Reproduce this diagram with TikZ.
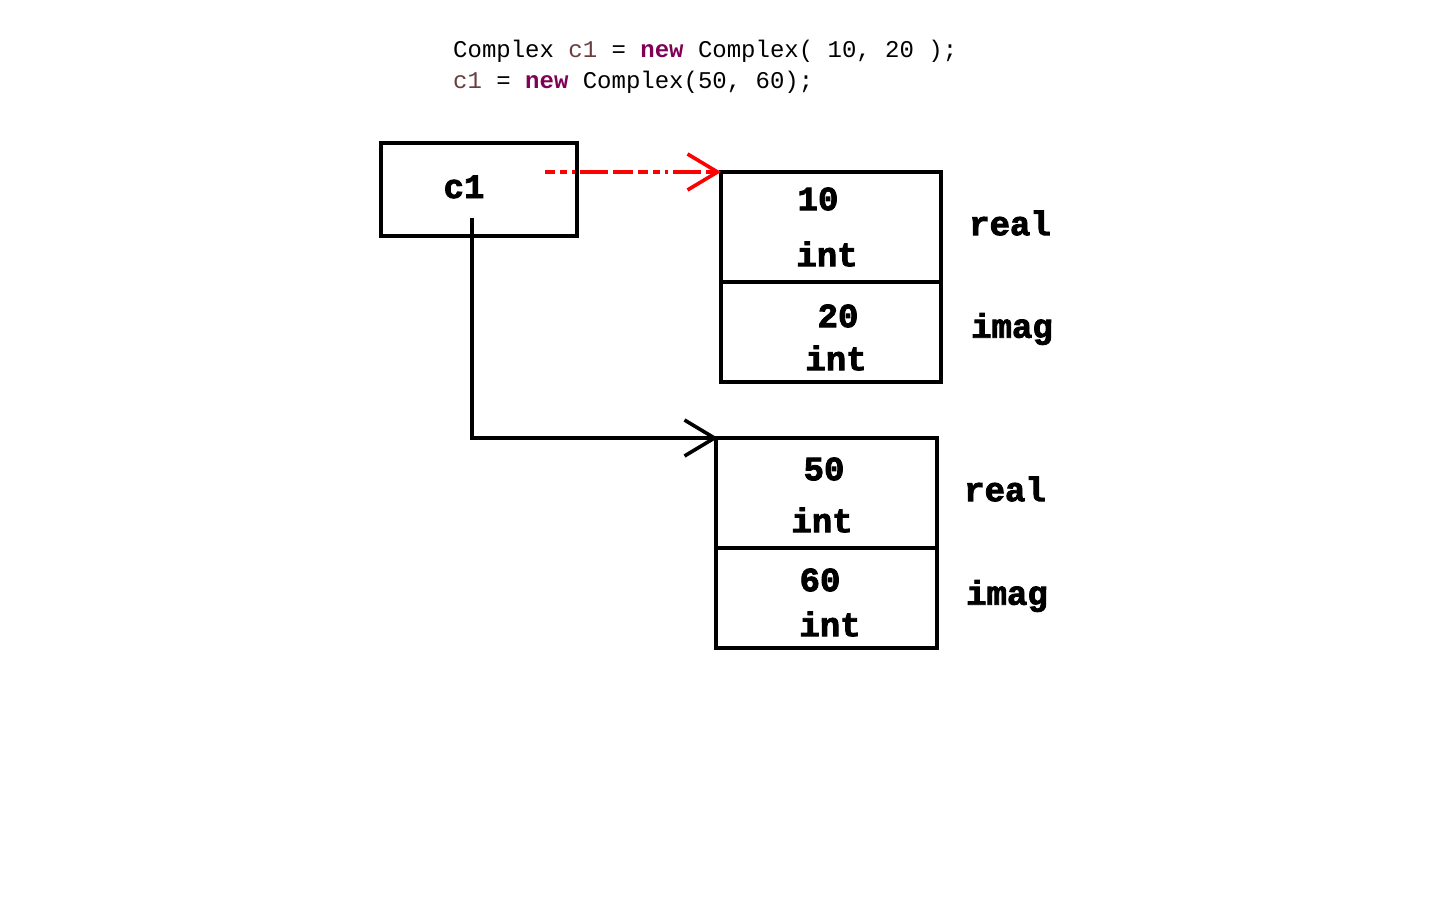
\documentclass[tikz,border=0pt]{standalone}
\usepackage{fontspec}
\setmonofont{Liberation Mono}
\newfontfamily\labfont[BoldFeatures={FakeBold=2.5}]{Liberation Mono}
\usetikzlibrary{arrows.meta}
\definecolor{kw}{HTML}{7F0055}
\definecolor{var}{HTML}{6A3E3E}
\begin{document}
\begin{tikzpicture}[x=1pt,y=-1pt,
  box/.style={draw=black,line width=3.6pt},
  lab/.style={font=\labfont\bfseries\fontsize{34}{34}\selectfont,inner sep=0pt,anchor=center},
  code/.style={font=\ttfamily\fontsize{24}{24}\selectfont,inner sep=0pt,anchor=base west},
  vtip/.style={-{Straight Barb[length=30pt,width=36pt,line width=3.6pt]}}]
\useasboundingbox (0,0) rectangle (1440,900);
% code
\node[code] (l1) at (453,57) {Complex \textcolor{var}{c1} = \textcolor{kw}{\bfseries new} Complex( 10, 20 );};
\node[code] (l2) at (453,88) {\textcolor{var}{c1} = \textcolor{kw}{\bfseries new} Complex(50, 60);};
% reference box
\draw[box] (381,143) rectangle (577,236);
\node[lab] (c1) at (464,187) {c1};
\coordinate (rs) at (545,172);
\coordinate (bs) at (472,218);
\coordinate (bc) at (472,438);
% object 1
\draw[box] (721,172) rectangle (941,382);
\draw[box] (721,282) -- (941,282);
\coordinate (o1) at (721,172);
\node[lab] (v10) at (818,199) {10};
\node[lab] (t1) at (827,254) {int};
\node[lab] (r1) at (1010,223) {real};
\node[lab] (v20) at (838,316) {20};
\node[lab] (t2) at (836,358) {int};
\node[lab] (i1) at (1012,329) {imag};
% object 2
\draw[box] (716,438) rectangle (937,648);
\draw[box] (716,548) -- (937,548);
\coordinate (o2) at (718,438);
\node[lab] (v50) at (824,469) {50};
\node[lab] (t3) at (822,520) {int};
\node[lab] (r2) at (1005,489) {real};
\node[lab] (v60) at (820,580) {60};
\node[lab] (t4) at (830,624) {int};
\node[lab] (i2) at (1007,596) {imag};
% arrows
\draw[red,line width=4pt,vtip,dash pattern=on 10pt off 5pt on 7pt off 5pt on 3pt off 5pt on 28pt off 5pt on 20pt off 5pt] (rs) -- (o1);
\draw[black,line width=3.6pt,vtip] (bs) -- (bc) -- (o2);
\end{tikzpicture}
\end{document}
